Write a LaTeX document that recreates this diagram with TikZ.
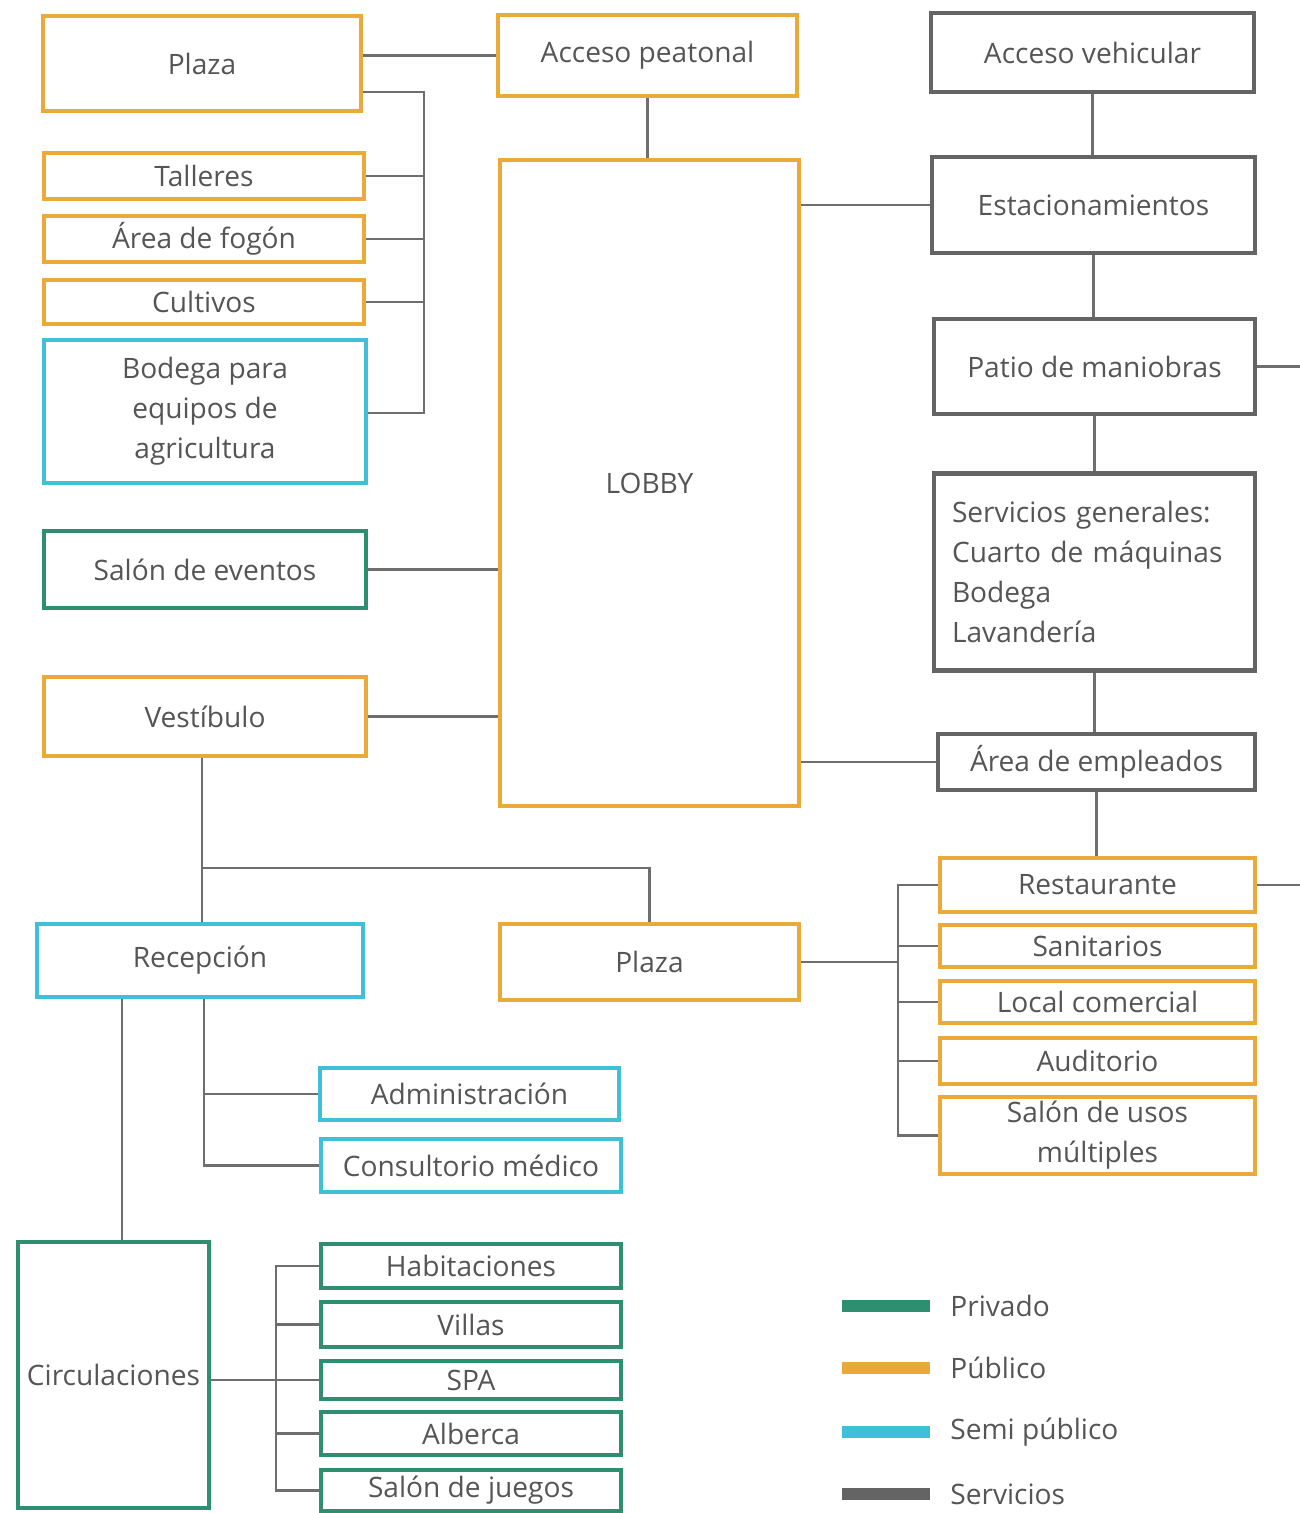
\documentclass[tikz,border=0pt]{standalone}
\usepackage{fontspec}
\setmainfont{Open Sans}
\usetikzlibrary{calc}
\definecolor{pub}{HTML}{E9AA3A}
\definecolor{pri}{HTML}{2E8F70}
\definecolor{semi}{HTML}{3FC0D8}
\definecolor{serv}{HTML}{646464}
\definecolor{txt}{HTML}{555555}
\definecolor{ln}{HTML}{6E6E6E}
\newcommand\mybox[7]{\node[#1, minimum width={(#4-#2)*0.02cm}, minimum height={(#5-#3)*0.02cm}] (#6) at ({(#2+#4)/2},{(#3+#5)/2}) {#7};}
\begin{document}
\begin{tikzpicture}[x=0.02cm,y=-0.02cm,
  box/.style={draw, line width=2.2pt, fill=white, inner sep=0pt, align=center, text=txt, font=\fontsize{16}{22.7}\selectfont},
  pubbox/.style={box, draw=pub},
  pribox/.style={box, draw=pri},
  semibox/.style={box, draw=semi},
  servbox/.style={box, draw=serv, line width=2.6pt},
  conn/.style={draw=ln, line width=1.3pt},
  legtxt/.style={text=txt, inner sep=0pt, anchor=west, font=\fontsize{16}{22.7}\selectfont},
  legbar/.style={line width=6.8pt}
]
\useasboundingbox (0,0) rectangle (1300,1513);

% boxes
\mybox{pubbox}{43}{16}{361}{111}{plazaA}{Plaza}
\mybox{pubbox}{498}{15}{797}{96}{accP}{Acceso peatonal}
\mybox{servbox}{931}{13}{1254}{92}{accV}{Acceso vehicular}
\mybox{pubbox}{44}{153}{364}{199}{tall}{Talleres}
\mybox{pubbox}{44}{216}{364}{262}{fogon}{Área de fogón}
\mybox{pubbox}{44}{280}{364}{324}{cult}{Cultivos}
\mybox{semibox}{44}{340}{366}{483}{bodega}{Bodega para\\equipos de\\agricultura}
\mybox{pubbox}{500}{160}{799}{806}{lobby}{LOBBY}
\mybox{servbox}{932}{157}{1255}{253}{estac}{Estacionamientos}
\mybox{servbox}{934}{319}{1255}{414}{patio}{Patio de maniobras}
\node[servbox, align=left, text width={285*0.02cm}, minimum width={321*0.02cm}, minimum height={197*0.02cm}] (serv) at (1094.5,572)
  {Servicios generales:\\Cuarto de máquinas\\Bodega\\Lavandería};
\mybox{servbox}{938}{734}{1255}{790}{emple}{Área de empleados}
\mybox{pubbox}{940}{858}{1255}{912}{rest}{Restaurante}
\mybox{pubbox}{940}{925}{1255}{967}{sanit}{Sanitarios}
\mybox{pubbox}{940}{981}{1255}{1023}{local}{Local comercial}
\mybox{pubbox}{940}{1038}{1255}{1084}{audit}{Auditorio}
\mybox{pubbox}{940}{1097}{1255}{1174}{sum}{Salón de usos\\múltiples}
\mybox{pubbox}{500}{924}{799}{1000}{plazaB}{Plaza}
\mybox{pribox}{44}{531}{366}{608}{eventos}{Salón de eventos}
\mybox{pubbox}{44}{677}{366}{756}{vest}{Vestíbulo}
\mybox{semibox}{37}{924}{363}{997}{recep}{Recepción}
\mybox{semibox}{320}{1068}{619}{1120}{admin}{Administración}
\mybox{semibox}{321}{1139}{621}{1192}{consul}{Consultorio médico}
\mybox{pribox}{18}{1242}{209}{1508}{circ}{Circulaciones}
\mybox{pribox}{321}{1244}{621}{1288}{habit}{Habitaciones}
\mybox{pribox}{321}{1302}{621}{1347}{villas}{Villas}
\mybox{pribox}{321}{1361}{621}{1399}{spa}{SPA}
\mybox{pribox}{321}{1412}{621}{1455}{alberca}{Alberca}
\mybox{pribox}{321}{1470}{621}{1511}{juegos}{Salón de juegos}

% coordinates
\coordinate (b1t) at (424,92);
\coordinate (b1b) at (424,413);
\coordinate (patR) at (1300,366);
\coordinate (restR) at (1300,885);
\coordinate (b2t) at (898,885);
\coordinate (j1) at (202,868);
\coordinate (r1) at (122,1000);
\coordinate (r2) at (204,1167);
\coordinate (b3) at (276,1300);

% connectors
\draw[conn] (plazaA.east |- accP.west) -- (accP.west);
\draw[conn] (plazaA.east |- b1t) -- (b1t) -- (b1b) -- (bodega.east |- b1b);
\draw[conn] (tall.east) -- (tall.east -| b1t);
\draw[conn] (fogon.east) -- (fogon.east -| b1t);
\draw[conn] (cult.east) -- (cult.east -| b1t);
\draw[conn] (accP.south) -- (accP.south |- lobby.north);
\draw[conn] (lobby.east |- estac.west) -- (estac.west);
\draw[conn] (accV.south) -- (accV.south |- estac.north);
\draw[conn] (estac.south) -- (estac.south |- patio.north);
\draw[conn] (patio.east) -- (patio.east -| patR);
\draw[conn] (patio.south) -- (patio.south |- serv.north);
\draw[conn] (serv.south) -- (serv.south |- emple.north);
\draw[conn] (lobby.east |- emple.west) -- (emple.west);
\draw[conn] (emple.south) -- (emple.south |- rest.north);
\draw[conn] (rest.east) -- (rest.east -| restR);
\draw[conn] (rest.west) -- (rest.west -| b2t) -- (sum.west -| b2t) -- (sum.west);
\draw[conn] (sanit.west) -- (sanit.west -| b2t);
\draw[conn] (local.west) -- (local.west -| b2t);
\draw[conn] (audit.west) -- (audit.west -| b2t);
\draw[conn] (plazaB.east) -- (plazaB.east -| b2t);
\draw[conn] (eventos.east) -- (eventos.east -| lobby.west);
\draw[conn] (vest.east) -- (vest.east -| lobby.west);
\draw[conn] (vest.south -| j1) -- (recep.north -| j1);
\draw[conn] (j1) -| (plazaB.north);
\draw[conn] (recep.south -| r1) -- (circ.north -| r1);
\draw[conn] (recep.south -| r2) |- (consul.west);
\draw[conn] (admin.west) -- (admin.west -| r2);
\draw[conn] (habit.west) -- (habit.west -| b3) -- (juegos.west -| b3) -- (juegos.west);
\draw[conn] (villas.west) -- (villas.west -| b3);
\draw[conn] (alberca.west) -- (alberca.west -| b3);
\draw[conn] (circ.east |- spa.west) -- (spa.west);

% legend
\draw[legbar, pri] (842,1306) -- (930,1306);
\draw[legbar, pub] (842,1368) -- (930,1368);
\draw[legbar, semi] (842,1432) -- (930,1432);
\draw[legbar, serv] (842,1494) -- (930,1494);
\node[legtxt] (lg1) at (950,1306) {Privado};
\node[legtxt] (lg2) at (950,1368) {Público};
\node[legtxt] (lg3) at (950,1432) {Semi público};
\node[legtxt] (lg4) at (950,1494) {Servicios};
\end{tikzpicture}
\end{document}
